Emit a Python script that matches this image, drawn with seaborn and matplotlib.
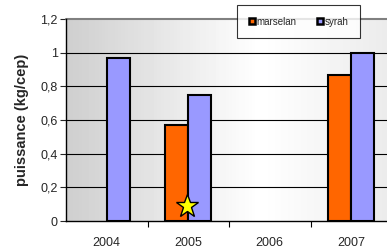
import numpy as np
import pandas as pd
import matplotlib
matplotlib.use("Agg")
import matplotlib.pyplot as plt
import seaborn as sns
from matplotlib.patches import Patch

years = ["2004", "2005", "2006", "2007"]
marselan = [np.nan, 0.57, np.nan, 0.87]
syrah = [0.97, 0.75, np.nan, 1.0]
star_value = 0.09
series_names = ["marselan", "syrah"]
colors = ["#FF6600", "#9999FF"]

df = pd.DataFrame({
    "year": years * 2,
    "value": marselan + syrah,
    "variety": ["marselan"] * 4 + ["syrah"] * 4,
})

sns.set_theme(style="white")
plt.rcParams["font.family"] = ["Liberation Sans", "DejaVu Sans"]

fig = plt.figure(figsize=(3.87, 2.52), dpi=100)
ax = fig.add_axes([66 / 387, 1 - 221 / 252, 326 / 387, 202 / 252])

# gradient background
grad = np.concatenate([np.linspace(0.81, 1.0, 60), np.linspace(1.0, 0.92, 40)])
img = np.tile(grad, (10, 1))
ax.imshow(img, cmap="gray", vmin=0, vmax=1, aspect="auto",
          extent=[-0.5, 3.5, 0, 1.2], zorder=0)

sns.barplot(data=df, x="year", y="value", hue="variety", order=years,
            hue_order=series_names, palette=colors, width=0.56,
            edgecolor="black", linewidth=1.5, saturation=1, ax=ax, zorder=3,
            legend=False)

ax.set_xlim(-0.5, 3.5)
ax.set_ylim(0, 1.2)
ax.set_yticks(np.arange(0, 1.21, 0.2))
ax.set_yticklabels(["0", "0,2", "0,4", "0,6", "0,8", "1", "1,2"], fontsize=9)
for yv in np.arange(0.2, 1.01, 0.2):
    ax.axhline(yv, color="black", lw=0.8, zorder=1)
ax.axhline(1.2, color="#808080", lw=1.5, zorder=1, clip_on=False)

ax.set_xticks([0.5, 1.5, 2.5])
ax.set_xticklabels([])
ax.tick_params(axis="x", direction="out", length=4, width=0.8,
               colors="black", bottom=True)
for i, y in enumerate(years):
    ax.text(i, -0.13, y, ha="center", va="center", fontsize=9)
ax.tick_params(axis="y", direction="out", length=4, width=0.8, left=True, pad=2)
ax.set_xlabel("")
ax.set_ylabel("puissance (kg/cep)", fontsize=10.5, fontweight="bold", labelpad=8)

for side in ["top", "right"]:
    ax.spines[side].set_visible(False)
ax.spines["left"].set_color("black")
ax.spines["left"].set_linewidth(1.0)
ax.spines["bottom"].set_color("black")
ax.spines["bottom"].set_linewidth(1.0)

ax.plot([0.98], [star_value], marker="*", markersize=17, color="#FFFF00",
        markeredgecolor="black", markeredgewidth=1.0, zorder=5, clip_on=False)

# legend
handles = [Patch(facecolor=c, edgecolor="black", linewidth=1.8) for c in colors]
leg = fig.legend(handles, series_names, loc="upper left",
                 bbox_to_anchor=(237 / 387, 1 - 5 / 252), ncol=2,
                 fontsize=7, frameon=True, fancybox=False,
                 handlelength=0.6, handleheight=0.6, handletextpad=0.15,
                 columnspacing=2.2, borderpad=1.2, borderaxespad=0)
leg.get_frame().set_edgecolor("black")
leg.get_frame().set_linewidth(0.8)
leg.get_frame().set_facecolor("white")

fig.savefig("out.png", dpi=100)
